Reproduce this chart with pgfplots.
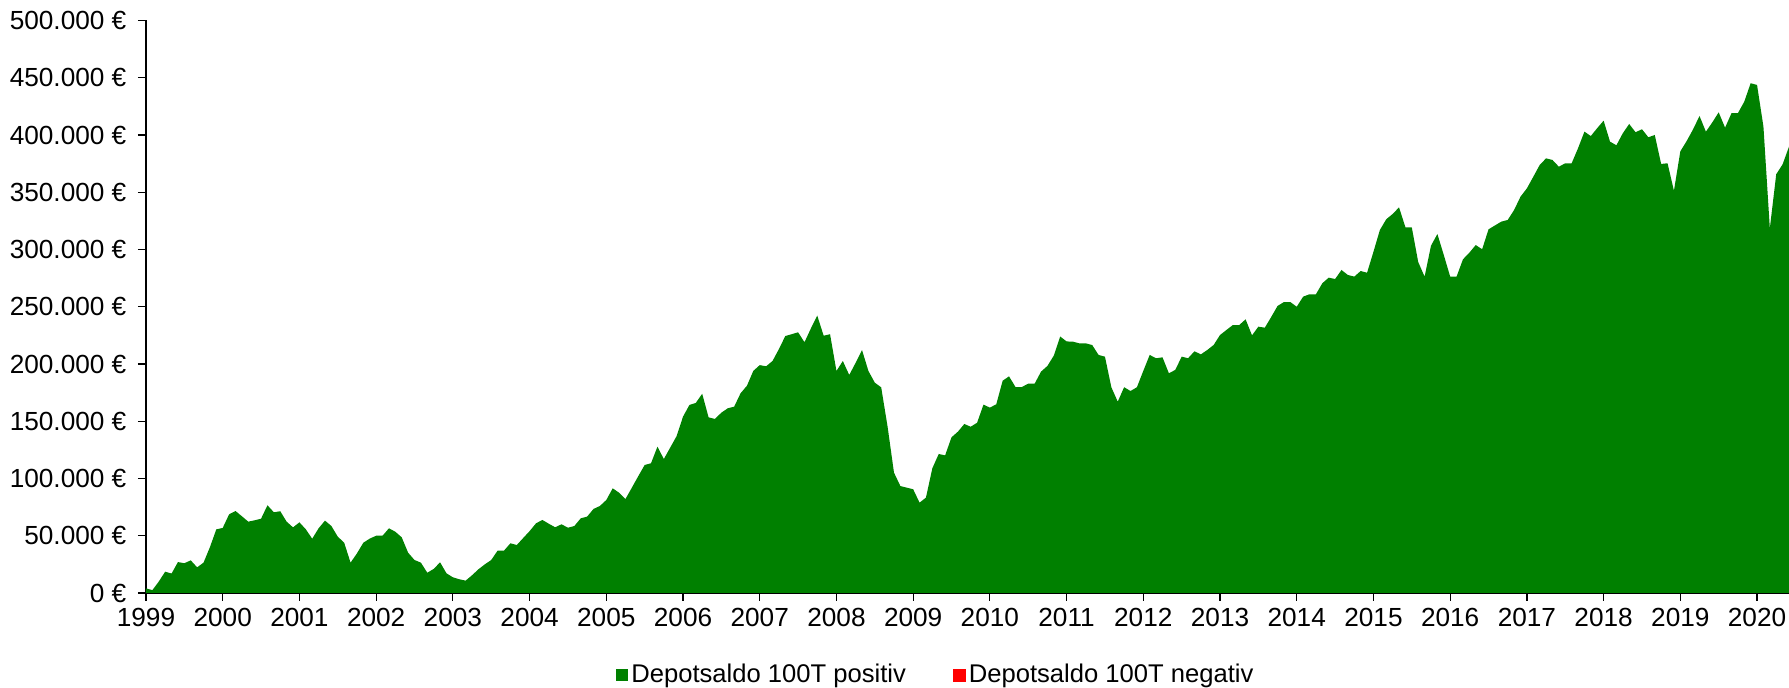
\documentclass[border=0pt]{standalone}
\usepackage{fontspec}
\setmainfont{Liberation Sans}
\usepackage{pgfplots}
\pgfplotsset{compat=1.18}
\usepackage{pgfplotstable}
\usetikzlibrary{calc}
\definecolor{xlgreen}{RGB}{0,128,0}
\definecolor{xlred}{RGB}{255,0,0}
\pgfplotstableread{
i v
0 4
1 2.5
2 10
3 18.6
4 17
5 27
6 26
7 28.5
8 22.4
9 26.5
10 40
11 55.6
12 56.8
13 68.7
14 71.6
15 67
16 62.3
17 63.5
18 64.9
19 76.6
20 70.5
21 71.4
22 62.3
23 57.3
24 61.7
25 55.6
26 47.4
27 56.5
28 63.2
29 58.5
30 49.2
31 43.9
32 26.5
33 34.6
34 43.9
35 47.5
36 50
37 50
38 56.5
39 53.5
40 48.6
41 35.2
42 28.8
43 26.5
44 17.7
45 21
46 26.8
47 17.2
48 13.7
49 12
50 10.8
51 15.5
52 20.7
53 25
54 28.8
55 37
56 37
57 43.4
58 41.9
59 48
60 54
61 60.8
62 63.8
63 60.5
64 57.4
65 60
66 57
67 58.5
68 65.2
69 66.7
70 73.4
71 76
72 81.2
73 91.4
74 87.6
75 82.1
76 92
77 102
78 111.8
79 113.3
80 127.8
81 117
82 127
83 137
84 154
85 164.2
86 166
87 174
88 153.4
89 152
90 157.5
91 161.3
92 162.7
93 174.4
94 181
95 194
96 199
97 198
98 202.6
99 213
100 224.4
101 226
102 227.7
103 219
104 231
105 242.2
106 224.7
107 226
108 193.9
109 202.6
110 190.4
111 201
112 212.2
113 193.9
114 183.7
115 179.6
116 145.2
117 105.1
118 93.4
119 92
120 90.6
121 78.9
122 83.3
123 108.9
124 121.4
125 120.2
126 136
127 140.9
128 147.6
129 145.2
130 148.7
131 164.5
132 161.9
133 164.8
134 185.4
135 189.2
136 179.9
137 179.9
138 182.8
139 182.8
140 193.3
141 198.3
142 207.3
143 224
144 219.7
145 219.5
146 218
147 218
148 216.6
149 207.9
150 206.4
151 179.7
152 167.1
153 179.7
154 176.4
155 179.7
156 194
157 207.9
158 205
159 205.8
160 191.9
161 194.8
162 206.4
163 205
164 211.1
165 208.4
166 212.2
167 216.6
168 225.3
169 229.7
170 234
171 234
172 239
173 225
174 232.6
175 231.7
176 241
177 250.7
178 254.1
179 254.1
180 250
181 258.8
182 260.9
183 260.9
184 270.5
185 275.4
186 274.2
187 282.1
188 277.7
189 276.3
190 281.2
191 279.7
192 298
193 317
194 326.4
195 331
196 336.8
197 319.4
198 319.2
199 289
200 276.3
201 303.3
202 313.5
203 295.2
204 276.3
205 276.3
206 291.4
207 297.2
208 303.9
209 300.2
210 317.6
211 321
212 324.3
213 325.8
214 334.5
215 346.1
216 353.4
217 363.5
218 373.8
219 379.6
220 378.2
221 372.3
222 375.3
223 375.3
224 388.4
225 402.9
226 399.1
227 406
228 412.5
229 394.2
230 391
231 401.5
232 409.6
233 402.4
234 405
235 398
236 400
237 374.7
238 375.3
239 351.3
240 385.7
241 394.8
242 405
243 416.6
244 402.9
245 411
246 419.8
247 406.4
248 419
249 419
250 429.1
251 445.2
252 443.7
253 407.3
254 318.5
255 365.7
256 374.4
257 389.8
}\depot

\begin{document}
\begin{tikzpicture}
\begin{axis}[
  name=ax,
  at={(0,0)}, anchor=south west,
  scale only axis,
  width=821.5pt, height=286.25pt,
  xmin=0, xmax=257, ymin=0, ymax=500,
  axis x line=bottom, axis y line=left,
  axis line style={line width=0.7pt, -, black},
  xtick={0,12,24,36,48,60,72,84,96,108,120,132,144,156,168,180,192,204,216,228,240,252},
  xticklabels={1999,2000,2001,2002,2003,2004,2005,2006,2007,2008,2009,2010,2011,2012,2013,2014,2015,2016,2017,2018,2019,2020},
  ytick={0,50,100,150,200,250,300,350,400,450,500},
  yticklabels={0 €,50.000 €,100.000 €,150.000 €,200.000 €,250.000 €,300.000 €,350.000 €,400.000 €,450.000 €,500.000 €},
  tick align=outside,
  major tick length=4pt,
  tick style={line width=0.6pt, black},
  every tick label/.append style={font=\fontsize{13.1}{15}\selectfont},
  yticklabel style={xshift=-2.3pt},
  legend style={at={(0.4811,-0.1432)}, anchor=center, draw=none, fill=none,
    legend columns=2, font=\fontsize{12.8}{15}\selectfont,
    nodes={inner sep=1.5pt},
    /tikz/every even column/.append style={column sep=22pt}},
]
\addplot[fill=xlgreen, draw=none,
  legend image code/.code={\fill[xlgreen] (0pt,-3pt) rectangle (6pt,3pt);}]
  table[x=i,y=v]{\depot} \closedcycle;
\addlegendentry{Depotsaldo 100T positiv}
\addlegendimage{legend image code/.code={\fill[xlred] (0pt,-3pt) rectangle (6pt,3pt);}}
\addlegendentry{Depotsaldo 100T negativ}
\end{axis}
\pgfresetboundingbox
\path ($(ax.south west)+(-73pt,-47.5pt)$) rectangle ($(ax.north east)+(0,10.25pt)$);
\end{tikzpicture}
\end{document}
